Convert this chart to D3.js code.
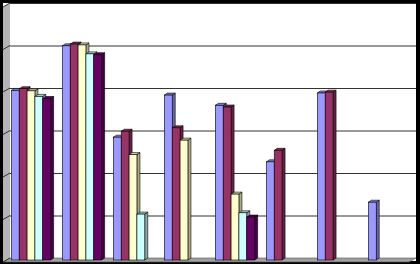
<!DOCTYPE html>
<html>
<head>
<meta charset="utf-8">
<script src="https://cdn.jsdelivr.net/npm/d3@7"></script>
<style>
  html, body { margin: 0; padding: 0; background: #000; }
  svg { display: block; }
</style>
</head>
<body>
<div id="chart"></div>
<script>
// categories and series (no labels are shown on the chart)
var categories = ["C1", "C2", "C3", "C4", "C5", "C6", "C7", "C8"];
var seriesNames = ["S1", "S2", "S3", "S4", "S5"];
var seriesColors = ["#9999ff", "#993366", "#ffffcc", "#ccffff", "#660066"];

var s1 = [3.99, 5.04, 2.89, 3.88, 3.64, 2.31, 3.93, 1.36];
var s2 = [4.03, 5.08, 3.03, 3.11, 3.60, 2.58, 3.95, null];
var s3 = [3.98, 5.06, 2.48, 2.82, 1.55, null, null, null];
var s4 = [3.85, 4.85, 1.08, null, 1.11, null, null, null];
var s5 = [3.80, 4.83, null, null, 1.01, null, null, null];
var seriesValues = [s1, s2, s3, s4, s5];

var yTicks = [0, 1, 2, 3, 4, 5, 6];

var W = 420, H = 264;
var svg = d3.select("#chart").append("svg")
    .attr("width", W)
    .attr("height", H);

// black frame + white chart area
svg.append("rect").attr("width", W).attr("height", H).attr("fill", "#000");
svg.append("rect").attr("x", 3).attr("y", 3).attr("width", 413).attr("height", 258).attr("fill", "#fff");

var y = d3.scaleLinear().domain([0, 6]).range([258, 3]);
var x = d3.scaleBand().domain(categories).range([5.5, 413.5]).paddingInner(0.23).paddingOuter(0.115);
var xs = d3.scaleBand().domain(seriesNames).range([0, x.bandwidth()]);

var wallX = 10, wallDx = 7, wallDy = 4, rightX = 416;

// side wall
svg.append("polygon")
    .attr("points", [[wallX, y(6)], [wallX, y(0)], [wallX - wallDx, y(0) + wallDy], [wallX - wallDx, y(6) + wallDy]].join(" "))
    .attr("fill", "#b4b4b4");

// floor
svg.append("polygon")
    .attr("points", [[wallX, y(0)], [rightX, y(0)], [rightX - wallDx, y(0) + wallDy], [wallX - wallDx, y(0) + wallDy]].join(" "))
    .attr("fill", "#a0a0a0")
    .attr("stroke", "#555").attr("stroke-width", 0.6);

// gridlines on the back wall and the side wall
yTicks.forEach(function(t) {
    if (t > 0) {
        svg.append("line")
            .attr("x1", wallX).attr("x2", rightX)
            .attr("y1", y(t) + 0.5).attr("y2", y(t) + 0.5)
            .attr("stroke", "#333").attr("stroke-width", 1);
    }
    svg.append("line")
        .attr("x1", wallX).attr("x2", wallX - wallDx)
        .attr("y1", y(t)).attr("y2", y(t) + wallDy)
        .attr("stroke", "#333").attr("stroke-width", 1);
});

// bars with a little depth
var dx = 3, dy = 2;
var bars = svg.append("g");
categories.forEach(function(cat, ci) {
    seriesNames.forEach(function(sn, si) {
        var v = seriesValues[si][ci];
        if (v == null) return;
        var c = seriesColors[si];
        var bx = x(cat) + xs(sn);
        var bw = xs.bandwidth();
        var top = y(v), base = y(0);

        bars.append("polygon")
            .attr("points", [[bx + bw, top + dy], [bx + bw + dx, top], [bx + bw + dx, base], [bx + bw, base + dy]].join(" "))
            .attr("fill", d3.color(c).darker(1.1))
            .attr("stroke", "#000").attr("stroke-width", 0.6);
        bars.append("polygon")
            .attr("points", [[bx, top + dy], [bx + dx, top], [bx + bw + dx, top], [bx + bw, top + dy]].join(" "))
            .attr("fill", d3.color(c).darker(0.5))
            .attr("stroke", "#000").attr("stroke-width", 0.6);
        bars.append("rect")
            .attr("x", bx).attr("y", top + dy)
            .attr("width", bw).attr("height", base - top)
            .attr("fill", c)
            .attr("stroke", "#000").attr("stroke-width", 0.6);
    });
});
</script>
</body>
</html>
